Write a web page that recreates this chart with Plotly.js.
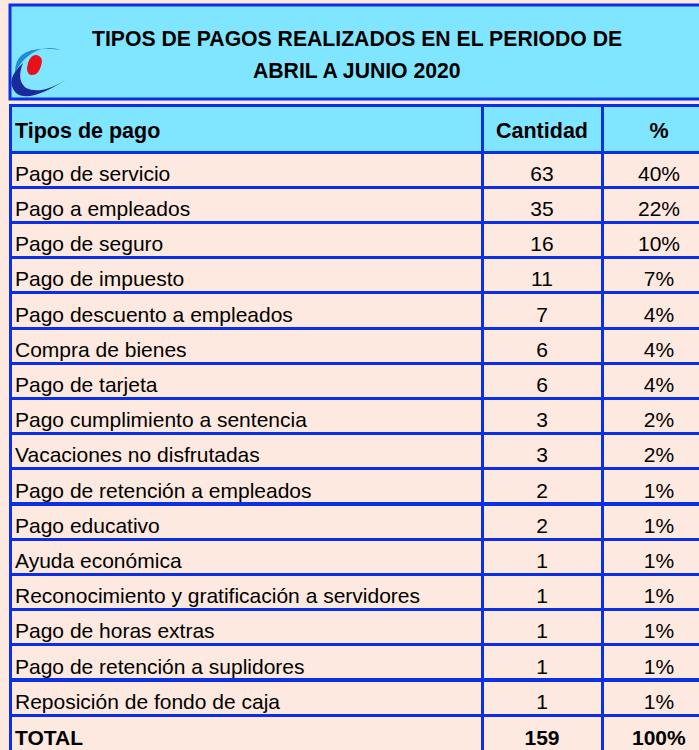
<!DOCTYPE html>
<html>
<head>
<meta charset="utf-8">
<script src="https://cdn.plot.ly/plotly-3.0.1.min.js"></script>
<style>
html,body{margin:0;padding:0;background:#FDE9DF;overflow:hidden;}
#chart{width:716px;height:750px;}
</style>
</head>
<body>
<div id="chart"></div>
<script>
const titleLines = ["TIPOS DE PAGOS REALIZADOS EN EL PERIODO DE", "ABRIL A JUNIO 2020"];
const headers = ["Tipos de pago", "Cantidad", "%"];
const categories = [
  "Pago de servicio",
  "Pago a empleados",
  "Pago de seguro",
  "Pago de impuesto",
  "Pago descuento a empleados",
  "Compra de bienes",
  "Pago de tarjeta",
  "Pago cumplimiento a sentencia",
  "Vacaciones no disfrutadas",
  "Pago de retención a empleados",
  "Pago educativo",
  "Ayuda económica",
  "Reconocimiento y gratificación a servidores",
  "Pago de horas extras",
  "Pago de retención a suplidores",
  "Reposición de fondo de caja"
];
const cantidad = [63, 35, 16, 11, 7, 6, 6, 3, 3, 2, 2, 1, 1, 1, 1, 1];
const porcentaje = ["40%", "22%", "10%", "7%", "4%", "4%", "4%", "2%", "2%", "1%", "1%", "1%", "1%", "1%", "1%", "1%"];
const totalLabel = "TOTAL";
const totalCantidad = 159;
const totalPct = "100%";

const W = 716, H = 750;
const blue = "#0A2FE6";
const cyan = "#80E5FF";
const peach = "#FDE9DF";
const font = "Liberation Sans, Arial, sans-serif";

const col1 = categories.concat(["<b>" + totalLabel + "</b>"]);
const col2 = cantidad.map(String).concat(["<b>" + totalCantidad + "</b>"]);
const col3 = porcentaje.concat(["<b>" + totalPct + "</b>"]);

const tableTop = 105;
const trace = {
  type: "table",
  domain: {x: [10 / W, 1], y: [0, 1 - tableTop / H]},
  columnwidth: [472, 120, 114],
  columnorder: [0, 1, 2],
  header: {
    values: headers.map(h => "<b>" + h + "</b>"),
    align: ["left", "center", "center"],
    fill: {color: cyan},
    line: {color: blue, width: 3},
    font: {family: font, size: 21.5, color: "#000"},
    height: 47
  },
  cells: {
    values: [col1, col2, col3],
    align: ["left", "center", "center"],
    fill: {color: peach},
    line: {color: blue, width: 3},
    font: {family: font, size: 21, color: "#000"},
    height: 35.2
  }
};

const shapes = [
  {type: "rect", xref: "x", yref: "y", x0: 10, x1: 740, y0: 5, y1: 99,
   fillcolor: cyan, line: {color: blue, width: 3}, layer: "below"},
  {type: "path", xref: "x", yref: "y",
   path: "M 15,73 Q 14,43 61,50 Q 42,44 27,57 Q 19,64 15,73 Z",
   fillcolor: "#1E8BD6", line: {width: 0}},
  {type: "path", xref: "x", yref: "y",
   path: "M 23,63 Q 4,80 16,93 Q 30,104 70,77 Q 42,96 26,88 Q 16,80 23,63 Z",
   fillcolor: "#1A2A9A", line: {width: 0}},
  {type: "path", xref: "x", yref: "y",
   path: "M 37,55 Q 44,57 41,66 Q 38,76 31,75 Q 25,73 28,63 Q 31,54 37,55 Z",
   fillcolor: "#E8101A", line: {width: 0}}
];

const annotations = titleLines.map((t, i) => ({
  xref: "x", yref: "y", x: 357, y: 38 + i * 32, text: "<b>" + t + "</b>",
  showarrow: false, xanchor: "center", yanchor: "middle",
  font: {family: font, size: 21.2, color: "#000"}
}));

const layout = {
  width: W, height: H,
  margin: {l: 0, r: 0, t: 0, b: 0},
  paper_bgcolor: peach, plot_bgcolor: peach,
  xaxis: {range: [0, W], visible: false, fixedrange: true},
  yaxis: {range: [H, 0], visible: false, fixedrange: true},
  shapes: shapes,
  annotations: annotations,
  showlegend: false
};

Plotly.newPlot("chart", [trace], layout, {displayModeBar: false, staticPlot: true}).then(gd => {
  // small nudge of the table's text to match the reference's cell padding
  const holders = gd.querySelectorAll(".cell-text-holder");
  holders.forEach(h => {
    const r = h.getBoundingClientRect();
    if (r.width === 0 && r.height === 0) return;
    const cy = r.top + r.height / 2;
    let dy = 5;
    if (cy < 152) dy = 6;
    else if (cy > 716) dy = 3;
    const dx = r.left < 60 ? -3 : 0;
    const t = h.getAttribute("transform") || "";
    h.setAttribute("transform", t + " translate(" + dx + "," + dy + ")");
  });
});
</script>
</body>
</html>
